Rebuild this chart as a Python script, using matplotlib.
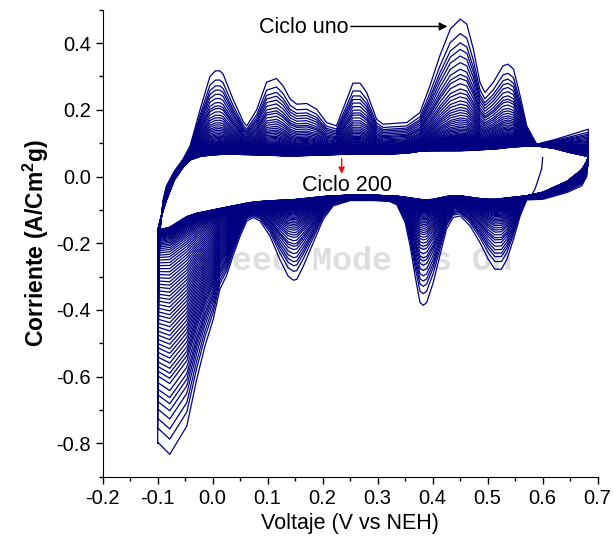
import numpy as np
import matplotlib
matplotlib.use("Agg")
from matplotlib import pyplot as plt

plt.rcParams['font.family'] = ['Liberation Sans', 'DejaVu Sans']
plt.rcParams['axes.unicode_minus'] = False
plt.rcParams['mathtext.fontset'] = 'custom'
plt.rcParams['mathtext.rm'] = 'Liberation Sans'
plt.rcParams['mathtext.bf'] = 'Liberation Sans:bold'

# forward (anodic) scan, V vs NEH
anodic_v = [-0.1, -0.098, -0.095, -0.09, -0.084, -0.07, -0.054, -0.041, -0.023, -0.005,
            0.005, 0.013, 0.019, 0.037, 0.056, 0.062, 0.08, 0.098, 0.116, 0.128,
            0.141, 0.153, 0.171, 0.189, 0.207, 0.225, 0.244, 0.255, 0.268, 0.28,
            0.298, 0.31, 0.353, 0.377, 0.395, 0.413, 0.432, 0.45, 0.462, 0.474,
            0.486, 0.495, 0.51, 0.528, 0.537, 0.547, 0.559, 0.571, 0.589, 0.62,
            0.65, 0.683]
# ciclo 1
anodic_first = [-0.80, -0.30, -0.15, -0.07, -0.028, 0.015, 0.052, 0.092, 0.20, 0.30,
                0.317, 0.317, 0.307, 0.232, 0.163, 0.152, 0.20, 0.283, 0.294, 0.272,
                0.232, 0.217, 0.219, 0.202, 0.162, 0.152, 0.232, 0.28, 0.28, 0.252,
                0.172, 0.157, 0.162, 0.192, 0.272, 0.362, 0.442, 0.472, 0.457, 0.382,
                0.282, 0.252, 0.282, 0.332, 0.337, 0.322, 0.242, 0.152, 0.097, 0.11,
                0.125, 0.142]
# ciclo 200
anodic_last = [-0.16, -0.15, -0.13, -0.10, -0.07, -0.01, 0.028, 0.05, 0.06, 0.064,
               0.065, 0.066, 0.067, 0.067, 0.066, 0.066, 0.065, 0.064, 0.063, 0.062,
               0.062, 0.062, 0.063, 0.064, 0.065, 0.066, 0.067, 0.067, 0.067, 0.067,
               0.067, 0.067, 0.07, 0.076, 0.077, 0.077, 0.077, 0.077, 0.078, 0.079,
               0.08, 0.081, 0.082, 0.085, 0.087, 0.088, 0.09, 0.091, 0.092, 0.085,
               0.072, 0.06]

# reverse (cathodic) scan
cathodic_v = [0.683, 0.68, 0.671, 0.644, 0.601, 0.571, 0.559, 0.547, 0.535, 0.525,
              0.513, 0.501, 0.486, 0.468, 0.45, 0.437, 0.425, 0.413, 0.401, 0.389,
              0.383, 0.377, 0.368, 0.359, 0.35, 0.335, 0.322, 0.292, 0.25, 0.219,
              0.201, 0.183, 0.165, 0.153, 0.147, 0.137, 0.122, 0.104, 0.086, 0.074,
              0.062, 0.05, 0.037, 0.025, 0.013, 0.001, -0.014, -0.029, -0.047, -0.078,
              -0.099]
cathodic_first = [0.05, 0.0, -0.028, -0.048, -0.068, -0.07, -0.118, -0.188, -0.248, -0.278,
                  -0.278, -0.248, -0.198, -0.148, -0.118, -0.123, -0.158, -0.238, -0.318, -0.378,
                  -0.386, -0.378, -0.298, -0.208, -0.138, -0.085, -0.075, -0.072, -0.072, -0.088,
                  -0.128, -0.198, -0.268, -0.308, -0.311, -0.298, -0.248, -0.178, -0.133, -0.123,
                  -0.133, -0.178, -0.238, -0.298, -0.338, -0.428, -0.508, -0.608, -0.748, -0.833,
                  -0.798]
cathodic_last = [0.058, 0.045, 0.02, -0.015, -0.047, -0.058, -0.06, -0.062, -0.064, -0.066,
                 -0.068, -0.068, -0.066, -0.062, -0.058, -0.057, -0.06, -0.064, -0.068, -0.07,
                 -0.07, -0.068, -0.066, -0.064, -0.062, -0.059, -0.058, -0.056, -0.056, -0.058,
                 -0.06, -0.063, -0.066, -0.068, -0.069, -0.07, -0.071, -0.073, -0.075, -0.077,
                 -0.08, -0.084, -0.088, -0.092, -0.096, -0.10, -0.105, -0.11, -0.12, -0.152,
                 -0.16]

# relative size of the peaks for each plotted cycle (1 = ciclo uno, 0 = ciclo 200)
peak_weight = [1.00, 0.89, 0.82, 0.77, 0.72, 0.67, 0.62, 0.58, 0.55, 0.51,
               0.47, 0.44, 0.41, 0.38, 0.355, 0.33, 0.31, 0.29, 0.27, 0.25,
               0.235, 0.22, 0.205, 0.19, 0.178, 0.166, 0.155, 0.145, 0.135,
               0.126, 0.120, 0.114, 0.108, 0.103, 0.098, 0.093, 0.088, 0.084, 0.080,
               0.076, 0.072, 0.068, 0.065, 0.062, 0.059, 0.056, 0.053, 0.050, 0.047,
               0.045, 0.043, 0.041, 0.039, 0.037, 0.035, 0.033, 0.031, 0.029, 0.027,
               0.025, 0.023, 0.021, 0.019, 0.017, 0.015, 0.013, 0.011, 0.0095, 0.008,
               0.0065, 0.005, 0.004, 0.003, 0.002, 0.001, 0.0]
# hydrogen region near -0.1 V decays slower
hydrogen_weight = [1.00, 0.933, 0.888, 0.844, 0.808, 0.777, 0.75, 0.719, 0.688, 0.665,
                   0.643, 0.621, 0.598, 0.576, 0.555, 0.535, 0.515, 0.495, 0.476, 0.457,
                   0.438, 0.42, 0.402, 0.385, 0.368, 0.351, 0.334, 0.318, 0.302,
                   0.286, 0.27, 0.255, 0.24, 0.225, 0.21, 0.196, 0.182, 0.168, 0.155,
                   0.142, 0.13, 0.119, 0.108, 0.098, 0.089, 0.081, 0.074, 0.067, 0.061,
                   0.055, 0.05, 0.045, 0.041, 0.037, 0.033, 0.03, 0.027, 0.024, 0.021,
                   0.019, 0.017, 0.015, 0.013, 0.011, 0.0095, 0.008, 0.0068, 0.0056, 0.0045,
                   0.0035, 0.0026, 0.0018, 0.0012, 0.0007, 0.0003, 0.0]

# first sweep starting point of ciclo 1
start_v = [0.6, 0.598, 0.586, 0.577]
start_i = [0.057, 0.022, -0.038, -0.063]

x_ticks = [-0.2, -0.1, 0.0, 0.1, 0.2, 0.3, 0.4, 0.5, 0.6, 0.7]
y_ticks = [-0.8, -0.6, -0.4, -0.2, 0.0, 0.2, 0.4]

av = np.array(anodic_v)
cv = np.array(cathodic_v)
a1, a200 = np.array(anodic_first), np.array(anodic_last)
c1, c200 = np.array(cathodic_first), np.array(cathodic_last)

# where the hydrogen weight applies instead of the peak weight
h_an = np.clip((-0.03 - av) / 0.03, 0, 1)
h_ca = np.clip((0.06 - cv) / 0.03, 0, 1)

fig = plt.figure(figsize=(6.13, 5.44), dpi=100)
ax = fig.add_axes([0.1675, 0.1237, 0.8075, 0.8583])

col = '#000080'
for wp, wh in zip(peak_weight[::-1], hydrogen_weight[::-1]):
    wa = h_an * wh + (1 - h_an) * wp
    wc = h_ca * wh + (1 - h_ca) * wp
    ia = a200 + wa * (a1 - a200)
    ic = c200 + wc * (c1 - c200)
    ax.plot(np.concatenate([av, cv]), np.concatenate([ia, ic]), color=col, lw=0.9, zorder=2)
ax.plot(start_v, start_i, color=col, lw=0.9, zorder=2)

ax.set_xlim(-0.2, 0.7)
ax.set_ylim(-0.9, 0.5)
ax.set_xticks(x_ticks)
ax.set_xticklabels([f'{t:.1f}' for t in x_ticks])
ax.set_xticks([t + 0.05 for t in x_ticks[:-1]], minor=True)
ax.set_yticks(y_ticks)
ax.set_yticklabels([f'{t:.1f}' for t in y_ticks])
ax.set_yticks([t + 0.1 for t in y_ticks] + [-0.9], minor=True)
ax.spines['top'].set_visible(False)
ax.spines['right'].set_visible(False)
ax.tick_params(direction='out', length=5, width=1, labelsize=14.5)
ax.tick_params(which='minor', direction='out', length=3, width=1)

ax.set_xlabel('Voltaje (V vs NEH)', fontsize=15.5, labelpad=4)
ax.set_ylabel(r'Corriente (A/Cm$^{\mathbf{2}}$g)', fontsize=16.5, fontweight='bold')

ax.annotate('', xy=(0.432, 0.45), xytext=(0.246, 0.45),
            arrowprops=dict(arrowstyle='-|>', color='black', lw=1, mutation_scale=12))
ax.text(0.165, 0.447, 'Ciclo uno', fontsize=15.5, ha='center', va='center')
ax.annotate('', xy=(0.2345, 0.0), xytext=(0.2345, 0.062),
            arrowprops=dict(arrowstyle='-|>', color='red', lw=1, mutation_scale=9))
ax.text(0.2436, -0.028, 'Ciclo 200', fontsize=15.5, ha='center', va='center')

# watermark of the original capture, sits behind the curves
ax.text(0.254, -0.254, 'Speed Mode is On', fontsize=24, family='Liberation Mono',
        fontweight='bold', color='#dedede', ha='center', va='center', zorder=1)

fig.savefig('out.png', dpi=100)
